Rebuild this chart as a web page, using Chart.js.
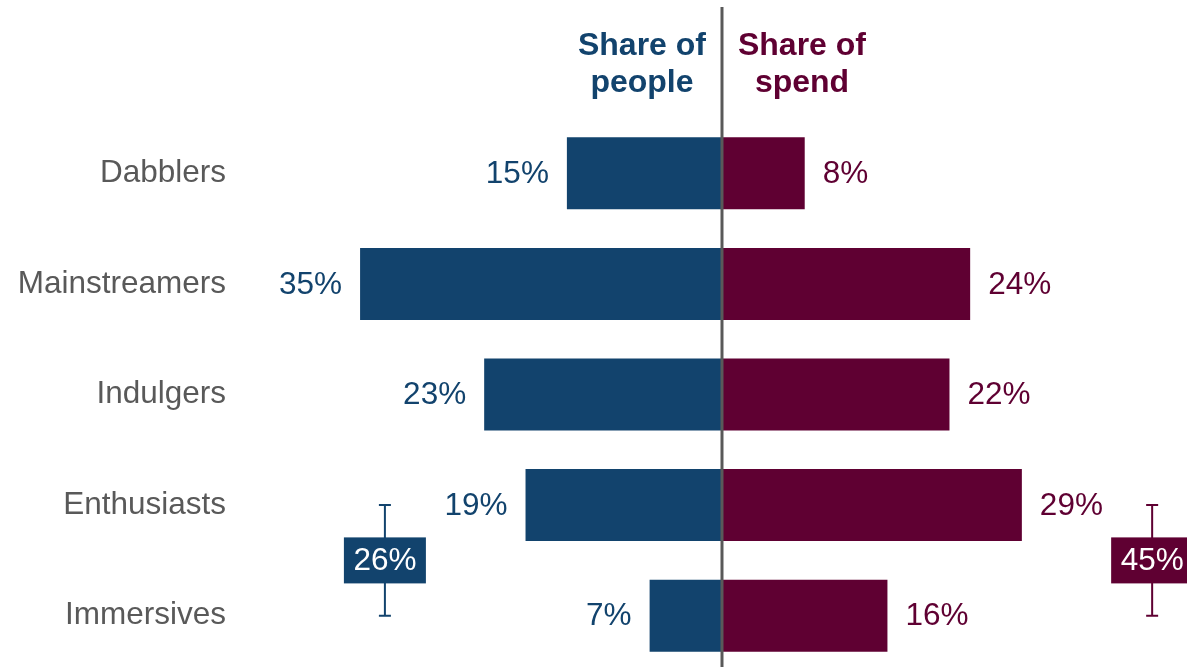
<!DOCTYPE html>
<html>
<head>
<meta charset="utf-8">
<script src="https://cdn.jsdelivr.net/npm/chart.js@4.4.1/dist/chart.umd.min.js"></script>
<style>
  html, body { margin: 0; padding: 0; background: #fff; overflow: hidden; }
  #wrap { width: 1187px; height: 671px; }
</style>
</head>
<body>
<div id="wrap"><canvas id="segChart"></canvas></div>
<script>
const segments = ['Dabblers', 'Mainstreamers', 'Indulgers', 'Enthusiasts', 'Immersives'];
const shareOfPeople = [15, 35, 23, 19, 7];
const shareOfSpend = [8, 24, 22, 29, 16];
// Enthusiasts + Immersives together
const groupPeople = 26;
const groupSpend = 45;
const headers = [['Share of', 'people'], ['Share of', 'spend']];

const BLUE = '#12436D';
const MAROON = '#5F0032';
const GREY = '#595959';
const FONT = '"Liberation Sans", Arial, sans-serif';

const extras = {
    id: 'extras',
    afterDatasetsDraw(chart) {
        const { ctx, scales: { x, y } } = chart;
        const zero = x.getPixelForValue(0);
        ctx.save();

        // value labels at the bar ends
        ctx.font = '31.5px ' + FONT;
        ctx.textBaseline = 'middle';
        chart.getDatasetMeta(0).data.forEach((bar, i) => {
            ctx.fillStyle = BLUE;
            ctx.textAlign = 'right';
            ctx.fillText(shareOfPeople[i] + '%', bar.x - 18, bar.y + 1);
        });
        chart.getDatasetMeta(1).data.forEach((bar, i) => {
            ctx.fillStyle = MAROON;
            ctx.textAlign = 'left';
            ctx.fillText(shareOfSpend[i] + '%', bar.x + 18, bar.y + 1);
        });

        // centre divider
        ctx.strokeStyle = GREY;
        ctx.lineWidth = 3;
        ctx.beginPath();
        ctx.moveTo(zero, 7);
        ctx.lineTo(zero, chart.height);
        ctx.stroke();

        // column headers
        ctx.font = 'bold 32px ' + FONT;
        ctx.textAlign = 'center';
        ctx.textBaseline = 'alphabetic';
        [[zero - 80, BLUE, headers[0]], [zero + 80, MAROON, headers[1]]].forEach(([hx, col, lines]) => {
            ctx.fillStyle = col;
            ctx.fillText(lines[0], hx, 55);
            ctx.fillText(lines[1], hx, 92);
        });

        // brackets for Enthusiasts + Immersives
        const y0 = y.getPixelForValue(3);
        const y1 = y.getPixelForValue(4);
        const ym = (y0 + y1) / 2;
        [[x.getPixelForValue(-32.6), BLUE, groupPeople], [x.getPixelForValue(41.6), MAROON, groupSpend]].forEach(([bx, col, val]) => {
            ctx.strokeStyle = col;
            ctx.lineWidth = 2;
            ctx.beginPath();
            ctx.moveTo(bx, y0); ctx.lineTo(bx, y1);
            ctx.moveTo(bx - 6, y0); ctx.lineTo(bx + 6, y0);
            ctx.moveTo(bx - 6, y1); ctx.lineTo(bx + 6, y1);
            ctx.stroke();
            ctx.fillStyle = col;
            ctx.fillRect(bx - 41, ym - 23, 82, 46);
            ctx.fillStyle = '#ffffff';
            ctx.font = '31.5px ' + FONT;
            ctx.textBaseline = 'middle';
            ctx.fillText(val + '%', bx, ym + 1);
            ctx.textBaseline = 'alphabetic';
        });

        ctx.restore();
    }
};

const ctx = document.getElementById('segChart').getContext('2d');
new Chart(ctx, {
    type: 'bar',
    data: {
        labels: segments,
        datasets: [
            {
                label: 'Share of people',
                data: shareOfPeople.map(v => -v),
                backgroundColor: BLUE,
                borderWidth: 0
            },
            {
                label: 'Share of spend',
                data: shareOfSpend,
                backgroundColor: MAROON,
                borderWidth: 0
            }
        ]
    },
    options: {
        indexAxis: 'y',
        responsive: true,
        maintainAspectRatio: false,
        animation: false,
        barPercentage: 0.651,
        categoryPercentage: 1,
        layout: { padding: { top: 118, left: 0, right: 0, bottom: 0 } },
        plugins: {
            legend: { display: false },
            tooltip: { enabled: false }
        },
        scales: {
            x: {
                stacked: true,
                display: false,
                min: -47.58,
                max: 44.97
            },
            y: {
                stacked: true,
                grid: { display: false, drawTicks: false },
                border: { display: false },
                ticks: {
                    color: GREY,
                    padding: 4,
                    font: { family: FONT, size: 31.5 }
                },
                afterFit(scale) {
                    scale.width = 230;
                    scale.paddingTop = 0;
                    scale.paddingBottom = 0;
                }
            }
        }
    },
    plugins: [extras]
});
</script>
</body>
</html>
